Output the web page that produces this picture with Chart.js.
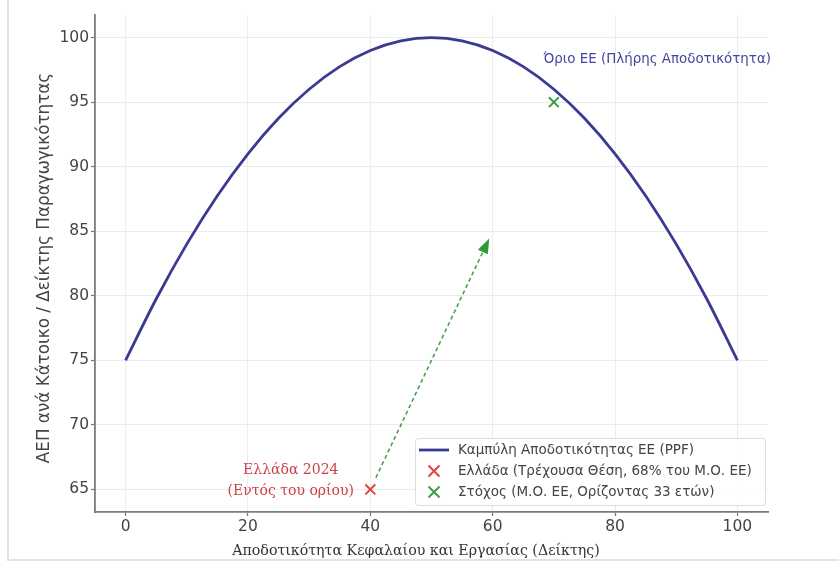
<!DOCTYPE html>
<html>
<head>
<meta charset="utf-8">
<script src="https://cdn.jsdelivr.net/npm/chart.js@4.4.1/dist/chart.umd.min.js"></script>
<style>
  html, body { margin: 0; padding: 0; background: #fff; }
  #wrap { width: 839px; height: 565px; position: relative; }
</style>
</head>
<body>
<div id="wrap"><canvas id="c" width="839" height="565"></canvas></div>
<script>
// ---- data ----
const ppfX = [0, 5, 10, 15, 20, 25, 30, 35, 40, 45, 50, 55, 60, 65, 70, 75, 80, 85, 90, 95, 100];
const ppfY = [75, 79.75, 84, 87.75, 91, 93.75, 96, 97.75, 99, 99.75, 100, 99.75, 99, 97.75, 96, 93.75, 91, 87.75, 84, 79.75, 75];
const greecePoint = [40, 65];
const targetPoint = [70, 95];
const arrowFrom = [40, 65];
const arrowTo = [60, 85];
const xTicks = [0, 20, 40, 60, 80, 100];
const yTicks = [65, 70, 75, 80, 85, 90, 95, 100];
const xRange = [-5, 105];
const yRange = [63.25, 101.75];
const seriesLabels = [
  'Καμπύλη Αποδοτικότητας ΕΕ (PPF)',
  'Ελλάδα (Τρέχουσα Θέση, 68% του Μ.Ο. ΕΕ)',
  'Στόχος (Μ.Ο. ΕΕ, Ορίζοντας 33 ετών)'
];
const greeceNote = ['Ελλάδα 2024', '(Εντός του ορίου)'];
const greeceNotePos = [27, 65.7];
const limitNote = 'Όριο ΕΕ (Πλήρης Αποδοτικότητα)';
const limitNotePos = [68.3, 98.3];
const xTitle = 'Αποδοτικότητα Κεφαλαίου και Εργασίας (Δείκτης)';
const yTitle = 'ΑΕΠ ανά Κάτοικο / Δείκτης Παραγωγικότητας';

const NAVY = '#3a3a93';
const RED = '#e04343';
const GREEN = '#3d9e43';

const overlay = {
  id: 'overlay',
  beforeDraw(chart) {
    const ctx = chart.ctx;
    ctx.save();
    ctx.fillStyle = '#fff';
    ctx.fillRect(0, 0, chart.width, chart.height);
    ctx.strokeStyle = '#e2e2e2';
    ctx.lineWidth = 2;
    ctx.beginPath();
    ctx.moveTo(8, 0); ctx.lineTo(8, 560); ctx.lineTo(839, 560);
    ctx.stroke();
    ctx.restore();
  },
  afterDatasetsDraw(chart) {
    const ctx = chart.ctx;
    const xs = chart.scales.x, ys = chart.scales.y;
    const px = v => xs.getPixelForValue(v), py = v => ys.getPixelForValue(v);
    ctx.save();

    // arrow
    let x0 = px(arrowFrom[0]), y0 = py(arrowFrom[1]);
    let x1 = px(arrowTo[0]), y1 = py(arrowTo[1]);
    const dx = x1 - x0, dy = y1 - y0, L = Math.hypot(dx, dy);
    const ux = dx / L, uy = dy / L;
    const sx = x0 + ux * 13, sy = y0 + uy * 13;
    const ex = x1 - ux * 8, ey = y1 - uy * 8;
    const headLen = 15, headW = 5.5;
    ctx.strokeStyle = GREEN;
    ctx.lineWidth = 1.5;
    ctx.setLineDash([4, 3]);
    ctx.beginPath();
    ctx.moveTo(sx, sy);
    ctx.lineTo(ex - ux * headLen * 0.8, ey - uy * headLen * 0.8);
    ctx.stroke();
    ctx.setLineDash([]);
    ctx.fillStyle = '#2f9a35';
    ctx.beginPath();
    ctx.moveTo(ex, ey);
    ctx.lineTo(ex - ux * headLen - uy * headW, ey - uy * headLen + ux * headW);
    ctx.lineTo(ex - ux * headLen + uy * headW, ey - uy * headLen - ux * headW);
    ctx.closePath();
    ctx.fill();

    // Greece annotation
    ctx.fillStyle = '#cc3f48';
    ctx.font = '14px "DejaVu Serif", serif';
    ctx.textAlign = 'center';
    ctx.textBaseline = 'middle';
    const gx = px(greeceNotePos[0]), gy = py(greeceNotePos[1]);
    ctx.fillText(greeceNote[0], gx, gy - 10.5);
    ctx.fillText(greeceNote[1], gx, gy + 10.5);

    // EU limit annotation
    ctx.fillStyle = '#4545a0';
    ctx.font = '13.4px "DejaVu Sans", sans-serif';
    ctx.textAlign = 'left';
    ctx.fillText(limitNote, px(limitNotePos[0]), py(limitNotePos[1]));

    // axis titles
    ctx.fillStyle = '#333';
    ctx.font = '14.2px "DejaVu Serif", serif';
    ctx.textAlign = 'center';
    ctx.fillText(xTitle, 416, 551);
    ctx.save();
    ctx.translate(45, 268);
    ctx.rotate(-Math.PI / 2);
    ctx.fillStyle = '#444';
    ctx.font = '16.8px "DejaVu Sans", sans-serif';
    ctx.fillText(yTitle, 0, 0);
    ctx.restore();

    // legend
    const bx = 415, by = 438, bw = 350, bh = 67;
    ctx.fillStyle = 'rgba(255,255,255,0.85)';
    ctx.strokeStyle = '#dddddd';
    ctx.lineWidth = 1;
    ctx.beginPath();
    ctx.roundRect(bx + 0.5, by + 0.5, bw, bh, 3);
    ctx.fill();
    ctx.stroke();
    const rows = [450, 471, 492];
    const ds = chart.data.datasets;
    ctx.font = '13.5px "DejaVu Sans", sans-serif';
    ctx.textAlign = 'left';
    ctx.textBaseline = 'middle';
    rows.forEach((ry, i) => {
      const d = ds[i];
      if (i === 0) {
        ctx.strokeStyle = d.borderColor;
        ctx.lineWidth = 2.8;
        ctx.beginPath();
        ctx.moveTo(419, ry); ctx.lineTo(449, ry);
        ctx.stroke();
      } else {
        ctx.strokeStyle = d.borderColor;
        ctx.lineWidth = 2;
        const cx = 434, r = 5.5;
        ctx.beginPath();
        ctx.moveTo(cx - r, ry - r); ctx.lineTo(cx + r, ry + r);
        ctx.moveTo(cx + r, ry - r); ctx.lineTo(cx - r, ry + r);
        ctx.stroke();
      }
      ctx.fillStyle = '#444';
      ctx.fillText(d.label, 458, ry);
    });
    ctx.restore();
  }
};

const tickFont = { family: '"DejaVu Sans", sans-serif', size: 15.5 };

new Chart(document.getElementById('c'), {
  type: 'scatter',
  data: {
    datasets: [
      {
        label: seriesLabels[0],
        data: ppfX.map((x, i) => ({ x, y: ppfY[i] })),
        showLine: true,
        borderColor: NAVY,
        borderWidth: 2.8,
        pointRadius: 0,
        cubicInterpolationMode: 'monotone',
        fill: false
      },
      {
        label: seriesLabels[1],
        data: [{ x: greecePoint[0], y: greecePoint[1] }],
        pointStyle: 'crossRot',
        pointRadius: 7,
        borderColor: RED,
        backgroundColor: RED,
        borderWidth: 2
      },
      {
        label: seriesLabels[2],
        data: [{ x: targetPoint[0], y: targetPoint[1] }],
        pointStyle: 'crossRot',
        pointRadius: 7,
        borderColor: GREEN,
        backgroundColor: GREEN,
        borderWidth: 2
      }
    ]
  },
  options: {
    responsive: false,
    animation: false,
    devicePixelRatio: 1,
    layout: { padding: { left: 0, top: 15, right: 71, bottom: 0 } },
    plugins: { legend: { display: false }, tooltip: { enabled: false }, title: { display: false } },
    scales: {
      x: {
        type: 'linear',
        min: xRange[0], max: xRange[1],
        afterBuildTicks: s => { s.ticks = xTicks.map(v => ({ value: v })); },
        afterFit: s => { s.height = 53; },
        grid: { color: '#ececec', lineWidth: 1, tickLength: 4, tickColor: '#777', tickWidth: 1.2 },
        border: { display: true, color: '#7a7a7a', width: 1.8 },
        ticks: { color: '#444', font: tickFont, padding: 2, maxRotation: 0 }
      },
      y: {
        type: 'linear',
        min: yRange[0], max: yRange[1],
        afterBuildTicks: s => { s.ticks = yTicks.map(v => ({ value: v })); },
        afterFit: s => { s.width = 95; },
        grid: { color: '#ececec', lineWidth: 1, tickLength: 4, tickColor: '#777', tickWidth: 1.2 },
        border: { display: true, color: '#7a7a7a', width: 1.8 },
        ticks: { color: '#444', font: tickFont, padding: 2 }
      }
    }
  },
  plugins: [overlay]
});
</script>
</body>
</html>
